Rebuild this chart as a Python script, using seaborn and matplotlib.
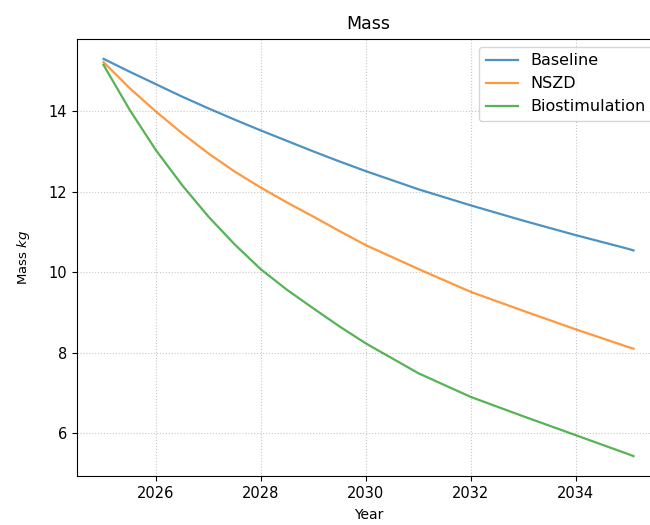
import matplotlib
matplotlib.use("Agg")
import matplotlib.pyplot as plt
import seaborn as sns
import pandas as pd

years = [2025, 2025.5, 2026, 2026.5, 2027, 2027.5, 2028, 2028.5, 2029, 2029.5,
         2030, 2031, 2032, 2033, 2034, 2035, 2035.1]
baseline = [15.30, 14.98, 14.67, 14.36, 14.07, 13.79, 13.52, 13.26, 13.00, 12.75,
            12.51, 12.06, 11.66, 11.28, 10.92, 10.58, 10.54]
nszd = [15.22, 14.57, 13.99, 13.45, 12.95, 12.50, 12.10, 11.73, 11.38, 11.02,
        10.67, 10.08, 9.51, 9.04, 8.58, 8.14, 8.10]
biostim = [15.15, 14.03, 13.03, 12.16, 11.38, 10.69, 10.07, 9.56, 9.10, 8.65,
           8.23, 7.49, 6.90, 6.42, 5.95, 5.48, 5.43]
series_names = ["Baseline", "NSZD", "Biostimulation"]

rows = []
for name, vals in zip(series_names, [baseline, nszd, biostim]):
    for y, v in zip(years, vals):
        rows.append({"Year": y, "Mass": v, "Scenario": name})
df = pd.DataFrame(rows)

plt.rcParams['font.family'] = ['DejaVu Sans']
fig = plt.figure(figsize=(6.5, 5.25), dpi=100)
ax = fig.add_axes([77/650, 1 - 476/525, (660 - 77)/650, (476 - 39)/525])

sns.lineplot(data=df, x="Year", y="Mass", hue="Scenario", hue_order=series_names,
             palette=["#1f77b4", "#ff7f0e", "#2ca02c"], linewidth=1.6, alpha=0.8, ax=ax)

ax.set_title("Mass", fontsize=12.5, pad=7)
ax.set_xlabel("Year", fontsize=10, labelpad=5)
ax.set_ylabel("Mass $kg$", fontsize=9.5, labelpad=12)
ax.grid(True, linestyle=":", color="#b0b0b0", linewidth=0.8, alpha=0.7)
ax.legend(loc="upper right", fontsize=11.5)
ax.tick_params(labelsize=10.5)

fig.savefig("out.png", dpi=100)
